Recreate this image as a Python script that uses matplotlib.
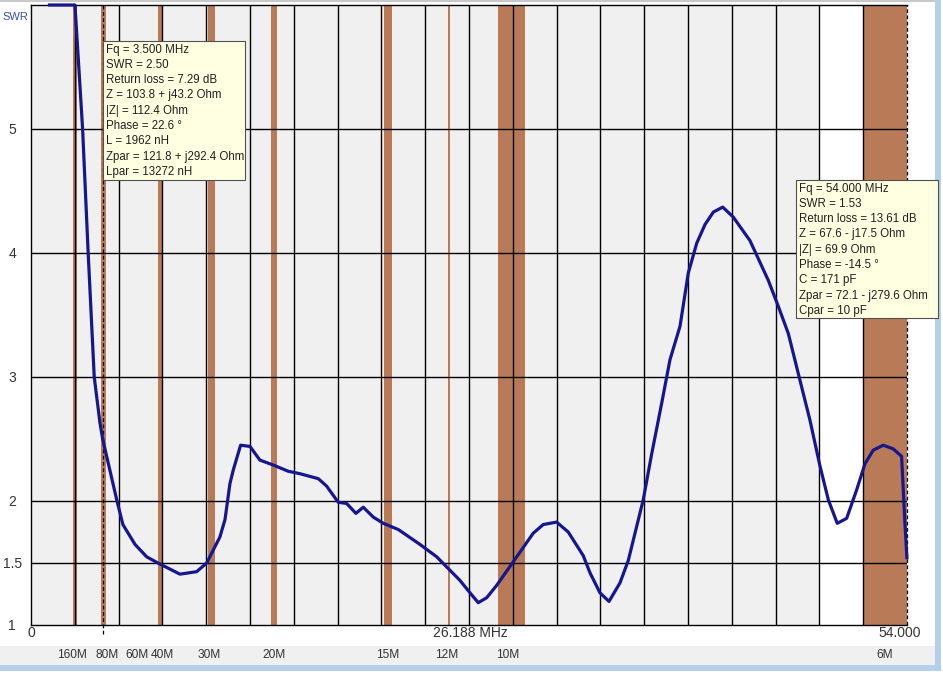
import numpy as np
import matplotlib
matplotlib.use("Agg")
import matplotlib.pyplot as plt
from matplotlib.patches import Rectangle
from matplotlib.transforms import blended_transform_factory

plt.rcParams['font.family'] = ['Liberation Sans', 'DejaVu Sans']

# SWR sweep, frequency in MHz as drawn on the analyser screen
freq = [0.06, 1.76, 2.24, 2.59, 2.97, 3.33, 3.50, 4.40, 4.77, 5.53, 6.26, 6.97,
        8.35, 9.40, 10.03, 10.86, 11.18, 11.49, 11.70, 12.16, 12.75, 13.37, 14.21,
        15.15, 15.89, 17.04, 17.56, 18.29, 18.82, 19.40, 19.86, 20.49, 21.12, 22.06,
        23.42, 24.47, 25.93, 26.56, 27.08, 27.61, 28.24, 29.28, 30.53, 31.16, 32.00,
        32.73, 33.67, 34.10, 34.72, 35.29, 35.98, 36.50, 37.44, 37.97, 38.60, 39.12,
        39.75, 40.27, 40.80, 41.32, 41.84, 42.43, 43.09, 44.14, 45.29, 45.92, 46.55,
        47.17, 47.91, 48.54, 49.06, 49.62, 50.21, 50.84, 51.36, 51.88, 52.51, 53.14,
        53.66, 53.87, 54.00]
swr = [6.0, 6.0, 5.0, 4.0, 3.0, 2.63, 2.50, 2.00, 1.81, 1.65, 1.55, 1.50,
       1.41, 1.43, 1.50, 1.71, 1.85, 2.14, 2.25, 2.45, 2.44, 2.33, 2.29,
       2.24, 2.22, 2.18, 2.12, 1.99, 1.98, 1.90, 1.95, 1.87, 1.82, 1.77,
       1.65, 1.55, 1.36, 1.26, 1.18, 1.22, 1.32, 1.51, 1.74, 1.81, 1.83,
       1.75, 1.56, 1.42, 1.26, 1.19, 1.34, 1.52, 2.01, 2.38, 2.79, 3.14,
       3.41, 3.84, 4.08, 4.23, 4.33, 4.37, 4.29, 4.10, 3.78, 3.57, 3.35,
       3.03, 2.65, 2.28, 2.01, 1.82, 1.86, 2.09, 2.30, 2.41, 2.45, 2.42,
       2.36, 1.82, 1.53]

# ham bands as shaded on the screen (MHz)
band_lo = [1.65, 3.40, 6.95, 10.09, 14.05, 21.18, 25.16, 28.34, 51.26]
band_hi = [1.90, 3.72, 7.22, 10.55, 14.46, 21.68, 25.32, 30.01, 54.00]
band_names = ['160M', '80M', '60M', '40M', '30M', '20M', '15M', '12M', '10M', '6M']
band_label_x = [1.60, 3.77, 5.65, 7.22, 10.17, 14.28, 21.41, 25.12, 28.95, 52.62]

swr_ticks = [1, 1.5, 2, 3, 4, 5]
cursors = [3.5, 53.97]
marker1 = ["Fq = 3.500 MHz", "SWR = 2.50", "Return loss = 7.29 dB",
           "Z = 103.8 + j43.2 Ohm", "|Z| = 112.4 Ohm", "Phase = 22.6 \u00b0",
           "L = 1962 nH", "Zpar = 121.8 + j292.4 Ohm", "Lpar = 13272 nH"]
marker2 = ["Fq = 54.000 MHz", "SWR = 1.53", "Return loss = 13.61 dB",
           "Z = 67.6 - j17.5 Ohm", "|Z| = 69.9 Ohm", "Phase = -14.5 \u00b0",
           "C = 171 pF", "Zpar = 72.1 - j279.6 Ohm", "Cpar = 10 pF"]

W, H = 943, 675
def fx(px): return px / W
def fy(py): return 1 - py / H

fig = plt.figure(figsize=(W / 100, H / 100), dpi=100)
fig.patch.set_facecolor('white')

# window chrome (behind everything)
chrome = [((0, 646), (935, 665), '#f0f0f0'),
          ((0, 665), (941, 671), '#b4d0ea'),
          ((935, 0), (941, 671), '#b4d0ea'),
          ((0, 0), (935, 2), '#c8c8c8')]
for (x0, y0), (x1, y1), c in chrome:
    fig.patches.append(Rectangle((fx(x0), fy(y1)), fx(x1 - x0), fy(y0) - fy(y1),
                                 transform=fig.transFigure, fc=c, ec='none', zorder=-5))

ax = fig.add_axes([fx(31), fy(625), fx(907) - fx(31), fy(5) - fy(625)])
ax.set_facecolor('white')
ax.set_xlim(-1.0, 54.0)
ax.set_ylim(1, 6)

ax.axvspan(-1.0, 48.47, color='#f0f0f0', lw=0, zorder=0.5)
for lo, hi in zip(band_lo, band_hi):
    ax.axvspan(lo, hi, color='#b97b57', lw=0, zorder=1)

xg = np.linspace(-1.0, 54.0, 21)[1:-1]
for x in xg:
    ax.axvline(x, color='black', lw=1.0, zorder=1.5)
for y in [1.5, 2, 3, 4, 5]:
    ax.axhline(y, color='black', lw=1.0, zorder=1.5)

# marker cursors: the first one runs a little below the frame
ax.plot([cursors[0]] * 2, [0.93, 6], color='black', lw=0.9, ls=(0, (3, 2)), zorder=2, clip_on=False)
ax.plot([cursors[1]] * 2, [1, 6], color='black', lw=0.9, ls=(0, (3, 2)), zorder=2, clip_on=False)

ax.plot(freq, swr, color='#16168f', lw=2.3, zorder=4, clip_on=False,
        solid_joinstyle='round', solid_capstyle='butt')

for s in ['left', 'top', 'bottom']:
    ax.spines[s].set_color('black')
    ax.spines[s].set_linewidth(1.0)
ax.spines['right'].set_visible(False)

ax.set_xticks([])
ax.set_yticks(swr_ticks)
ax.set_yticklabels([f'{t:g}' for t in swr_ticks])
ax.tick_params(axis='y', length=0, pad=13.5, labelsize=10, labelcolor='#333333')
for lab in ax.get_yticklabels():
    lab.set_horizontalalignment('center')

ax.text(0.0, -0.013, '0', transform=ax.transAxes, ha='center', va='center',
        fontsize=10, color='#333333')
ax.text(0.502, -0.013, '26.188 MHz', transform=ax.transAxes, ha='center', va='center',
        fontsize=10, color='#333333')
ax.text(1.016, -0.013, '54.000', transform=ax.transAxes, ha='right', va='center',
        fontsize=10, color='#333333')
fig.text(fx(15), fy(17), 'SWR', ha='center', va='center', fontsize=8, color='#3552a8')

tr = blended_transform_factory(ax.transData, fig.transFigure)
for name, x in zip(band_names, band_label_x):
    ax.text(x, fy(655), name, transform=tr, ha='center', va='center',
            fontsize=8.6, color='#333333', clip_on=False, zorder=6)

def marker_box(left, top, right, bottom, lines):
    fig.patches.append(Rectangle((fx(left), fy(bottom)), fx(right - left), fy(top) - fy(bottom),
                                 transform=fig.transFigure, fc='#ffffe1', ec='#505050',
                                 lw=0.8, zorder=10))
    for i, t in enumerate(lines):
        fig.text(fx(left + 3), fy(top + 8.5 + 15.3 * i), t, ha='left', va='center',
                 fontsize=8.3, color='#202020', zorder=11)

marker_box(103, 41, 245, 180, marker1)
marker_box(796, 180, 938, 318, marker2)

fig.savefig('out.png', dpi=100)
